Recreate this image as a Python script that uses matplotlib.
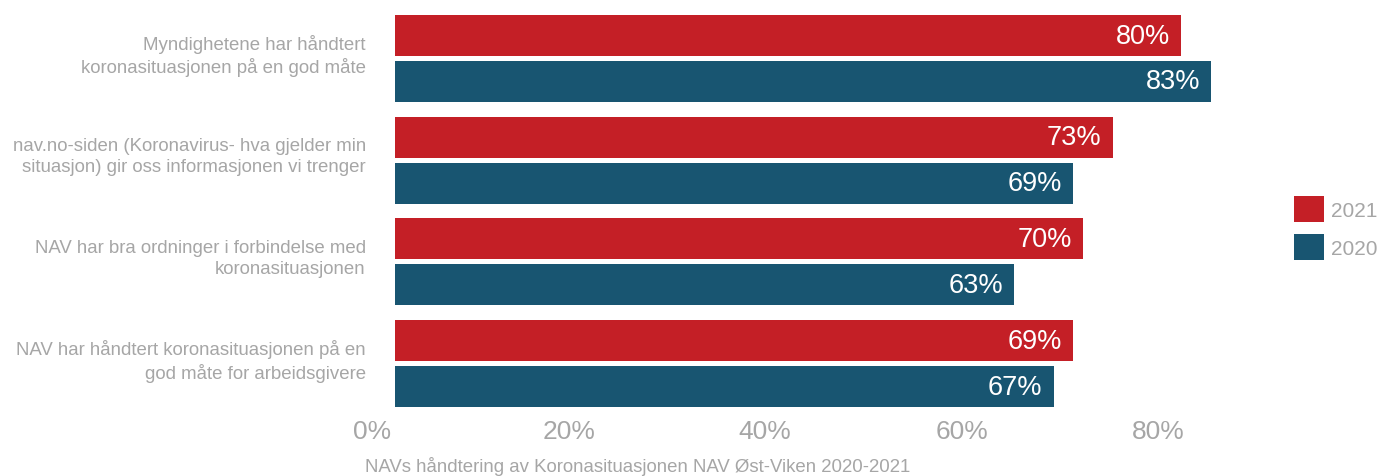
import matplotlib
matplotlib.use("Agg")
import matplotlib.pyplot as plt
import matplotlib.transforms as mtransforms
import numpy as np

plt.rcParams['font.family'] = ['Liberation Sans', 'DejaVu Sans']

categories = [
    "Myndighetene har håndtert\nkoronasituasjonen på en god måte",
    "nav.no-siden (Koronavirus- hva gjelder min\nsituasjon) gir oss informasjonen vi trenger",
    "NAV har bra ordninger i forbindelse med\nkoronasituasjonen",
    "NAV har håndtert koronasituasjonen på en\ngod måte for arbeidsgivere",
]
values_2021 = [0.80, 0.73, 0.70, 0.69]
values_2020 = [0.83, 0.69, 0.63, 0.67]
series_labels = ["2021", "2020"]
tick_values = [0.0, 0.2, 0.4, 0.6, 0.8]
tick_labels = ["0%", "20%", "40%", "60%", "80%"]
caption = "NAVs håndtering av Koronasituasjonen NAV Øst-Viken 2020-2021"

RED = "#C41F26"
BLUE = "#185571"
GRAY = "#A6A6A6"

W, H = 1381, 477
fig = plt.figure(figsize=(W / 100, H / 100), dpi=100)

x0_px, unit_px = 395, 983
top_px, group_px = 8.65, 101.7
ax = fig.add_axes([x0_px / W, 1 - (top_px + 4 * group_px) / H,
                   0.9 * unit_px / W, 4 * group_px / H])

y = np.arange(len(categories))
bar_h = 0.403
off = 0.226
b21 = ax.barh(y - off, values_2021, height=bar_h, color=RED, label=series_labels[0])
b20 = ax.barh(y + off, values_2020, height=bar_h, color=BLUE, label=series_labels[1])

for bars, vals in ((b21, values_2021), (b20, values_2020)):
    for rect, v in zip(bars, vals):
        ax.annotate(f"{v * 100:.0f}%", xy=(v, rect.get_y() + rect.get_height() / 2),
                    xytext=(-11, 0), textcoords="offset pixels",
                    ha="right", va="center", color="white", fontsize=19.5)

ax.set_xlim(0, 0.9)
ax.set_ylim(len(categories) - 0.5, -0.5)

ax.set_yticks(y)
ax.set_yticklabels(categories, fontsize=13.4, color=GRAY, linespacing=1.33)
ax.set_xticks(tick_values)
ax.set_xticklabels(tick_labels, fontsize=19, color=GRAY)
ax.tick_params(axis="both", length=0)
ax.tick_params(axis="y", pad=21)
ax.tick_params(axis="x", pad=3)

# nudge the category labels up a little and the percent ticks a little left
up = mtransforms.ScaledTranslation(0, 8 / 100, fig.dpi_scale_trans)
for lbl in ax.get_yticklabels():
    lbl.set_transform(lbl.get_transform() + up)
left = mtransforms.ScaledTranslation(-23 / 100, 0, fig.dpi_scale_trans)
for lbl in ax.get_xticklabels():
    lbl.set_transform(lbl.get_transform() + left)

for s in ax.spines.values():
    s.set_visible(False)

fig.legend(handles=[b21, b20], labels=series_labels, loc="center left",
           bbox_to_anchor=(1294 / W, 1 - 229 / H), frameon=False,
           fontsize=15, labelcolor=GRAY, handlelength=1.45, handleheight=1.55,
           labelspacing=0.55, handletextpad=0.35, borderaxespad=0, borderpad=0)

fig.text(365 / W, 1 - 467 / H, caption, fontsize=13.4, color=GRAY,
         ha="left", va="center")

fig.savefig("out.png", dpi=100)
